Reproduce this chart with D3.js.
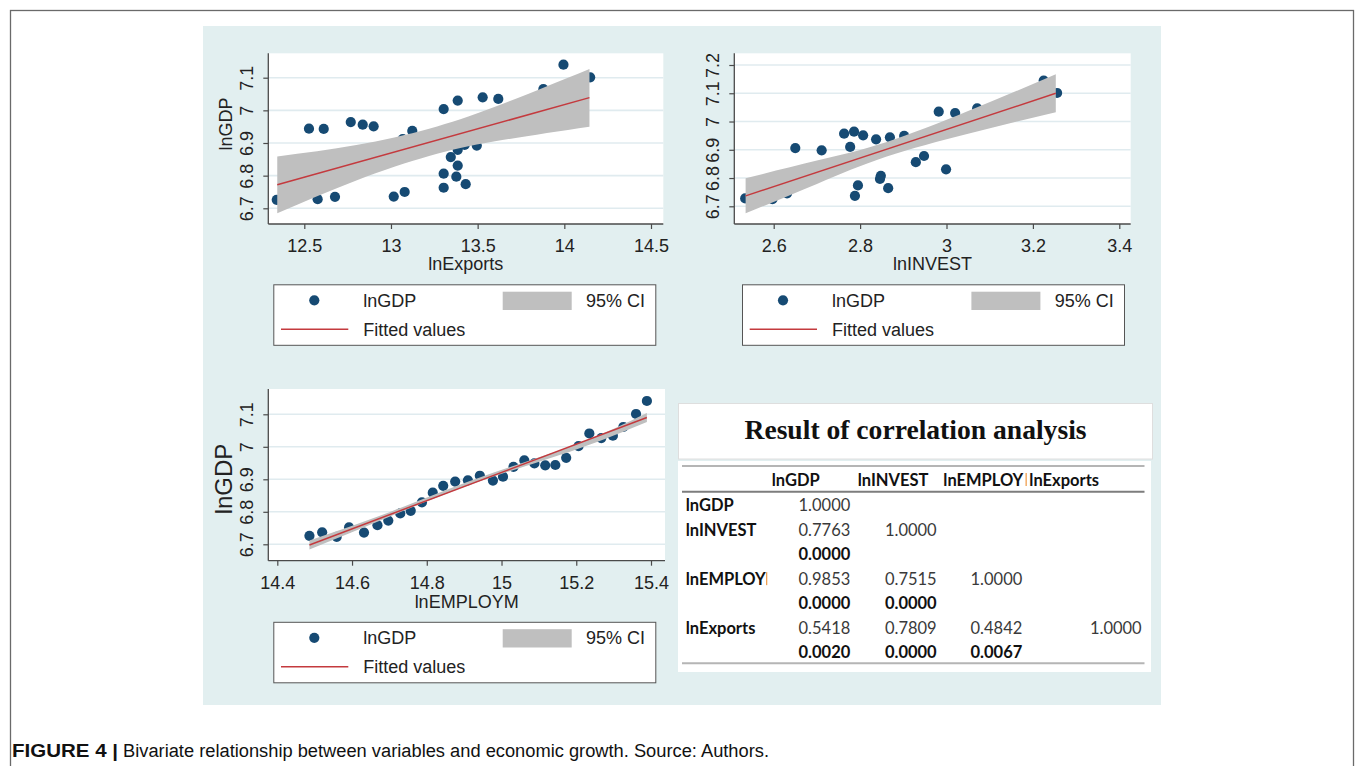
<!DOCTYPE html>
<html><head><meta charset="utf-8">
<script src="https://cdn.jsdelivr.net/npm/d3@7"></script>
<style>body{margin:0;background:#fff;} svg{display:block;}</style>
</head><body>
<svg id="c" width="1357" height="766"></svg>
<script>
// ---------------- DATA ----------------
// Panel 1: lnGDP vs lnExports
const exportsX = [12.341,12.527,12.612,12.577,12.677,12.768,12.837,12.900,13.016,13.079,13.068,13.123,13.304,13.385,13.529,13.619,13.304,13.304,13.377,13.385,13.345,13.385,13.425,13.431,13.495,13.879,13.995,14.149];
const exportsGDP = [6.726,6.944,6.943,6.728,6.735,6.964,6.956,6.951,6.736,6.750,6.912,6.937,7.004,7.030,7.040,7.035,6.806,6.763,6.797,6.831,6.857,6.879,6.894,6.774,6.892,7.065,7.140,7.101];
const exportsFitX = [12.344, 14.145];
const exportsFitY = [6.772, 7.039];
const exportsCIX  = [12.344, 12.8, 13.22, 13.6, 14.145];
const exportsCILo = [6.685, 6.785, 6.860, 6.905, 6.950];
const exportsCIHi = [6.859, 6.894, 6.944, 7.011, 7.127];
const exportsTicks = [12.5, 13, 13.5, 14, 14.5];

// Panel 2: lnGDP vs lnINVEST
const investX = [2.534,2.597,2.631,2.650,2.711,2.763,2.786,2.777,2.807,2.837,2.869,2.902,2.795,2.788,2.848,2.846,2.865,2.929,2.948,2.999,2.982,3.020,3.071,3.225,3.256];
const investGDP = [6.728,6.725,6.746,6.906,6.898,6.957,6.964,6.910,6.951,6.937,6.944,6.949,6.774,6.737,6.808,6.797,6.764,6.856,6.878,6.831,7.035,7.030,7.047,7.145,7.101];
const investFitX = [2.535, 3.253];
const investFitY = [6.737, 7.100];
const investCIX  = [2.535, 2.7, 2.86, 3.05, 3.253];
const investCILo = [6.675, 6.779, 6.875, 6.957, 7.033];
const investCIHi = [6.799, 6.862, 6.927, 7.037, 7.167];
const investTicks = [2.6, 2.8, 3, 3.2, 3.4];

// Panel 3: lnGDP vs lnEMPLOYM
const employX = [14.486,14.520,14.559,14.592,14.632,14.668,14.697,14.729,14.757,14.787,14.816,14.844,14.876,14.910,14.942,14.977,15.004,15.032,15.061,15.088,15.117,15.144,15.173,15.206,15.235,15.267,15.298,15.326,15.360,15.389];
const employGDP = [6.726,6.737,6.723,6.752,6.736,6.759,6.773,6.795,6.803,6.829,6.859,6.880,6.893,6.897,6.911,6.896,6.908,6.938,6.958,6.949,6.943,6.944,6.966,7.002,7.041,7.027,7.034,7.061,7.101,7.141];
const employFitX = [14.486, 15.389];
const employFitY = [6.698, 7.090];
const employCIX  = [14.486, 14.7, 14.94, 15.2, 15.389];
const employCILo = [6.684, 6.785, 6.893, 6.992, 7.076];
const employCIHi = [6.712, 6.799, 6.905, 7.008, 7.104];
const employTicks = [14.4, 14.6, 14.8, 15, 15.2, 15.4];

const gdpTicksA = [6.7, 6.8, 6.9, 7, 7.1];
const gdpTicksB = [6.7, 6.8, 6.9, 7, 7.1, 7.2];

// Correlation table
const corrVars = ["lnGDP", "lnINVEST", "lnEMPLOY", "lnExports"];
const corrHeader = ["lnGDP", "lnINVEST", "lnEMPLOY", "lnExports"];
const corrValues = [
  ["1.0000"],
  ["0.7763", "1.0000"],
  ["0.9853", "0.7515", "1.0000"],
  ["0.5418", "0.7809", "0.4842", "1.0000"]
];
const corrPValues = [
  [],
  ["0.0000"],
  ["0.0000", "0.0000"],
  ["0.0020", "0.0000", "0.0067"]
];

const legendLabels = ["lnGDP", "95% CI", "Fitted values"];
const tableTitle = "Result of correlation analysis";
const captionBold = "FIGURE 4 |";
const captionText = "Bivariate relationship between variables and economic growth. Source: Authors.";

// ---------------- STYLE ----------------
const C = {
  bg: "#e2eff0", grid: "#e0ebef", dot: "#164a73", ci: "#bfbfbf",
  fit: "#c43a3e", axis: "#4a4a4a", text: "#222"
};
const FONT = "'Liberation Sans', Arial, sans-serif";
const DOT_R = 5.1;

const svg = d3.select("#c");

// outer frame + background
svg.append("rect").attr("x", 10.5).attr("y", 10.5).attr("width", 1343).attr("height", 800)
  .attr("fill", "#fff").attr("stroke", "#6a6a6a").attr("stroke-width", 1.3);
svg.append("rect").attr("x", 203).attr("y", 26).attr("width", 958).attr("height", 679).attr("fill", C.bg);

function drawPanel(cfg) {
  const g = svg.append("g");
  const x = d3.scaleLinear().domain(cfg.xDom).range(cfg.xRng);
  const y = d3.scaleLinear().domain(cfg.yDom).range(cfg.yRng);
  const L = cfg.left, R = cfg.right, T = cfg.top, B = cfg.bottom;

  g.append("rect").attr("x", L).attr("y", T).attr("width", R - L).attr("height", B - T).attr("fill", "#fff");

  g.selectAll("line.grid").data(cfg.yTicks).join("line").attr("class", "grid")
    .attr("x1", L).attr("x2", R).attr("y1", d => y(d)).attr("y2", d => y(d))
    .attr("stroke", C.grid).attr("stroke-width", 1.6);

  g.selectAll("circle.pt").data(d3.zip(cfg.px, cfg.py)).join("circle").attr("class", "pt")
    .attr("cx", d => x(d[0])).attr("cy", d => y(d[1])).attr("r", DOT_R).attr("fill", C.dot);

  const area = d3.area().x(d => x(d[0])).y0(d => y(d[1])).y1(d => y(d[2])).curve(d3.curveNatural);
  g.append("path").datum(d3.zip(cfg.ciX, cfg.ciLo, cfg.ciHi)).attr("d", area).attr("fill", C.ci);

  const line = d3.line().x(d => x(d[0])).y(d => y(d[1]));
  g.append("path").datum(d3.zip(cfg.fitX, cfg.fitY)).attr("d", line)
    .attr("fill", "none").attr("stroke", C.fit).attr("stroke-width", 1.5);

  // x axis
  const xa = g.append("g").attr("transform", `translate(0,${B})`)
    .call(d3.axisBottom(x).tickValues(cfg.xTicks).tickSize(5).tickFormat(d => String(d)));
  xa.select(".domain").remove();
  xa.selectAll(".tick line").attr("stroke", C.axis).attr("stroke-width", 1.2);
  xa.selectAll(".tick text").attr("y", 28).attr("dy", 0)
    .attr("font-family", FONT).attr("font-size", 18).attr("fill", C.text);

  // y axis
  const ya = g.append("g").attr("transform", `translate(${L},0)`)
    .call(d3.axisLeft(y).tickValues(cfg.yTicks).tickSize(5).tickFormat(d => String(d)));
  ya.select(".domain").remove();
  ya.selectAll(".tick line").attr("stroke", C.axis).attr("stroke-width", 1.2);
  ya.selectAll(".tick text").attr("transform", "rotate(-90)").attr("x", 0).attr("y", -15).attr("dy", 0)
    .attr("text-anchor", "middle").attr("font-family", FONT).attr("font-size", 18).attr("fill", C.text);

  g.append("line").attr("x1", L).attr("x2", R).attr("y1", B).attr("y2", B).attr("stroke", C.axis).attr("stroke-width", 1.3);
  g.append("line").attr("x1", L).attr("x2", L).attr("y1", T).attr("y2", B).attr("stroke", C.axis).attr("stroke-width", 1.3);

  g.append("text").attr("x", (L + R) / 2).attr("y", cfg.xTitleY).attr("text-anchor", "middle")
    .attr("font-family", FONT).attr("font-size", 18).attr("fill", C.text).text(cfg.xTitle);
  if (cfg.yTitle) {
    g.append("text").attr("transform", `translate(${cfg.yTitleX},${cfg.yTitleMid}) rotate(-90)`)
      .attr("text-anchor", "middle").attr("font-family", FONT).attr("font-size", cfg.yTitleSize)
      .attr("fill", C.text).text(cfg.yTitle);
  }

  // legend
  const lg = svg.append("g").attr("transform", `translate(${cfg.legX},${cfg.legY})`);
  lg.append("rect").attr("x", 0.5).attr("y", 0.5).attr("width", 382).attr("height", 60.5)
    .attr("fill", "#fff").attr("stroke", "#555").attr("stroke-width", 1);
  lg.append("circle").attr("cx", 41).attr("cy", 16).attr("r", DOT_R).attr("fill", C.dot);
  lg.append("text").attr("x", 90).attr("y", 22.5).attr("font-family", FONT).attr("font-size", 18).attr("fill", C.text).text(legendLabels[0]);
  lg.append("rect").attr("x", 229.4).attr("y", 7.4).attr("width", 69).attr("height", 18.3).attr("fill", C.ci);
  lg.append("text").attr("x", 312.7).attr("y", 22.5).attr("font-family", FONT).attr("font-size", 18).attr("fill", C.text).text(legendLabels[1]);
  lg.append("line").attr("x1", 7.7).attr("x2", 75).attr("y1", 45).attr("y2", 45).attr("stroke", C.fit).attr("stroke-width", 1.5);
  lg.append("text").attr("x", 90).attr("y", 51.5).attr("font-family", FONT).attr("font-size", 18).attr("fill", C.text).text(legendLabels[2]);
}

drawPanel({
  px: exportsX, py: exportsGDP, fitX: exportsFitX, fitY: exportsFitY,
  ciX: exportsCIX, ciLo: exportsCILo, ciHi: exportsCIHi,
  xTicks: exportsTicks, yTicks: gdpTicksA,
  xDom: [12.5, 14.5], xRng: [304.3, 651], yDom: [6.7, 7.1], yRng: [208.3, 77.7],
  left: 268.3, right: 663.3, top: 53.3, bottom: 224,
  xTitle: "lnExports", xTitleY: 269.5, yTitle: "lnGDP", yTitleX: 231.5, yTitleMid: 124, yTitleSize: 18,
  legX: 273.3, legY: 284.3
});
drawPanel({
  px: investX, py: investGDP, fitX: investFitX, fitY: investFitY,
  ciX: investCIX, ciLo: investCILo, ciHi: investCIHi,
  xTicks: investTicks, yTicks: gdpTicksB,
  xDom: [2.6, 3.4], xRng: [773.7, 1119.3], yDom: [6.7, 7.2], yRng: [206.3, 65],
  left: 734.3, right: 1130.7, top: 53.3, bottom: 224,
  xTitle: "lnINVEST", xTitleY: 269.5, yTitle: null,
  legX: 742, legY: 284.3
});
drawPanel({
  px: employX, py: employGDP, fitX: employFitX, fitY: employFitY,
  ciX: employCIX, ciLo: employCILo, ciHi: employCIHi,
  xTicks: employTicks, yTicks: gdpTicksA,
  xDom: [14.4, 15.4], xRng: [277.3, 651], yDom: [6.7, 7.1], yRng: [544.3, 414.3],
  left: 268.3, right: 665, top: 389, bottom: 560.7,
  xTitle: "lnEMPLOYM", xTitleY: 607.5, yTitle: "lnGDP", yTitleX: 231.5, yTitleMid: 479, yTitleSize: 24,
  legX: 273.3, legY: 621.8
});

// ---------------- TABLE ----------------
const tg = svg.append("g");
tg.append("rect").attr("x", 678.5).attr("y", 403.5).attr("width", 474).attr("height", 55.5)
  .attr("fill", "#fff").attr("stroke", "#dedede").attr("stroke-width", 1);
tg.append("text").attr("x", 915.5).attr("y", 438.5).attr("text-anchor", "middle")
  .attr("font-family", "'Liberation Serif', 'Times New Roman', serif").attr("font-weight", "bold")
  .attr("font-size", 27.6).attr("fill", "#111").text(tableTitle);
tg.append("rect").attr("x", 678).attr("y", 461).attr("width", 473).attr("height", 211).attr("fill", "#fff");

const TF = "Lato, 'Open Sans', sans-serif";
const TS = 16.5;
tg.append("line").attr("x1", 682).attr("x2", 1144.5).attr("y1", 466).attr("y2", 466).attr("stroke", "#b5b5b5").attr("stroke-width", 2);
tg.append("line").attr("x1", 682).attr("x2", 1144.5).attr("y1", 491.7).attr("y2", 491.7).attr("stroke", "#7d7d7d").attr("stroke-width", 2);
tg.append("line").attr("x1", 682).attr("x2", 1144.5).attr("y1", 663.3).attr("y2", 663.3).attr("stroke", "#b5b5b5").attr("stroke-width", 2);

const headLeft = [771.7, 857.7, 943.3, 1029.3];
const numRight = [850.3, 936.7, 1022.3, 1141.7];
tg.selectAll("text.hd").data(corrHeader).join("text").attr("class", "hd")
  .attr("x", (d, i) => headLeft[i]).attr("y", 485.7)
  .attr("font-family", TF).attr("font-weight", "bold").attr("font-size", TS).attr("fill", "#111").text(d => d);
// small truncation mark (orange) after lnEMPLOY
tg.append("rect").attr("x", 1025.5).attr("y", 473).attr("width", 1.3).attr("height", 13).attr("fill", "#f0a050");

const rowY0 = 511, rowStep = 24.55;
let r = 0;
corrVars.forEach((v, i) => {
  const yb = rowY0 + r * rowStep;
  tg.append("text").attr("x", 685.7).attr("y", yb).attr("font-family", TF).attr("font-weight", "bold")
    .attr("font-size", TS).attr("fill", "#111").text(v);
  if (v === "lnEMPLOY") {
    tg.append("rect").attr("x", 766).attr("y", yb - 12.5).attr("width", 1.3).attr("height", 13).attr("fill", "#f0a050");
  }
  corrValues[i].forEach((val, j) => {
    tg.append("text").attr("x", numRight[j]).attr("y", yb).attr("text-anchor", "end")
      .attr("font-family", TF).attr("font-size", TS).attr("fill", "#3a3a3a").text(val);
  });
  r++;
  if (corrPValues[i].length) {
    const yp = rowY0 + r * rowStep;
    corrPValues[i].forEach((val, j) => {
      tg.append("text").attr("x", numRight[j]).attr("y", yp).attr("text-anchor", "end")
        .attr("font-family", TF).attr("font-weight", "bold").attr("font-size", TS).attr("fill", "#111").text(val);
    });
    r++;
  }
});

// ---------------- CAPTION ----------------
svg.append("text").attr("x", 12).attr("y", 757).attr("font-family", FONT).attr("font-weight", "bold")
  .attr("font-size", 18).attr("fill", "#111").attr("textLength", 106).attr("lengthAdjust", "spacingAndGlyphs").text(captionBold);
svg.append("text").attr("x", 123).attr("y", 757).attr("font-family", FONT)
  .attr("font-size", 18).attr("fill", "#111").attr("textLength", 646).attr("lengthAdjust", "spacingAndGlyphs").text(captionText);
</script>
</body></html>
